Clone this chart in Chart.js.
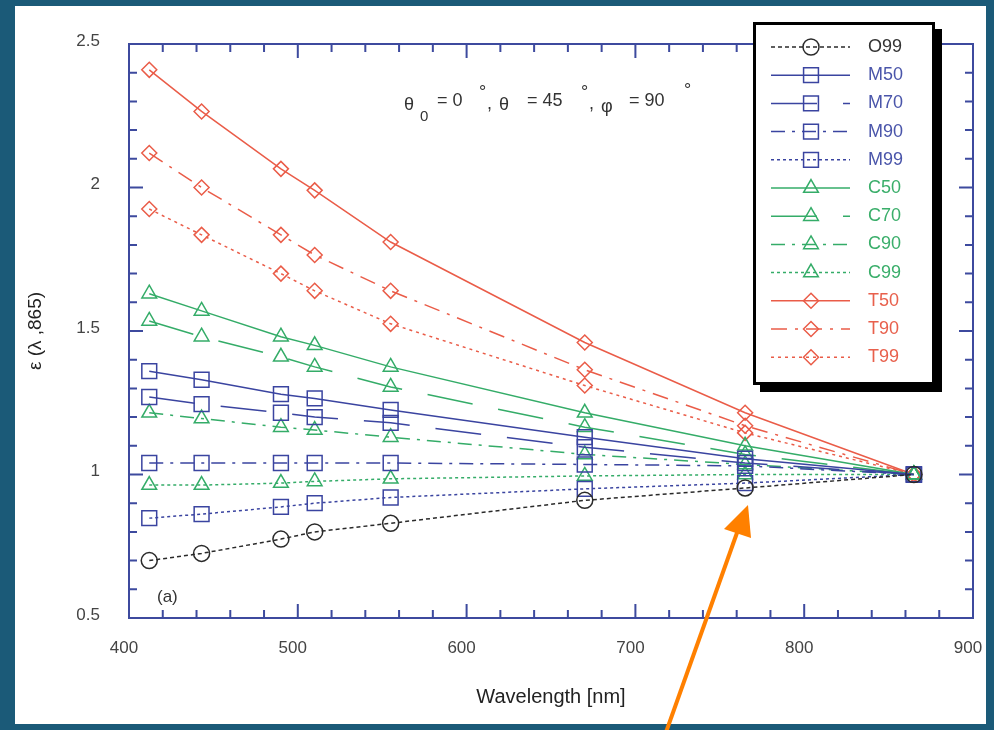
<!DOCTYPE html>
<html>
<head>
<meta charset="utf-8">
<script src="https://cdn.jsdelivr.net/npm/chart.js@4"></script>
<style>
  html, body { margin: 0; padding: 0; background: #1b5a78; }
  canvas { display: block; }
</style>
</head>
<body>
<canvas id="chart" width="994" height="730"></canvas>
<script>
// wavelengths (nm) and epsilon(lambda, 865) for each model
const wavelengths = [412, 443, 490, 510, 555, 670, 765, 865];

const O99 = [0.70, 0.725, 0.775, 0.80, 0.83, 0.91, 0.953, 1.0];
const M50 = [1.36, 1.33, 1.28, 1.265, 1.225, 1.13, 1.055, 1.0];
const M70 = [1.27, 1.245, 1.215, 1.20, 1.18, 1.095, 1.04, 1.0];
const M90 = [1.04, 1.04, 1.04, 1.04, 1.04, 1.035, 1.03, 1.0];
const M99 = [0.848, 0.862, 0.887, 0.90, 0.92, 0.95, 0.97, 1.0];
const C50 = [1.63, 1.57, 1.48, 1.45, 1.375, 1.215, 1.10, 1.0];
const C70 = [1.535, 1.48, 1.41, 1.375, 1.305, 1.165, 1.07, 1.0];
const C90 = [1.215, 1.195, 1.165, 1.155, 1.13, 1.07, 1.035, 1.0];
const C99 = [0.963, 0.963, 0.97, 0.976, 0.985, 0.995, 1.0, 1.0];
const T50 = [2.41, 2.265, 2.065, 1.99, 1.81, 1.46, 1.215, 1.0];
const T90 = [2.12, 2.0, 1.835, 1.765, 1.64, 1.365, 1.17, 1.0];
const T99 = [1.925, 1.835, 1.70, 1.64, 1.525, 1.31, 1.145, 1.0];

const yTicks = [0.5, 1, 1.5, 2, 2.5];
const xTicks = [400, 500, 600, 700, 800, 900];

const BLACK = '#2a2a2a', BLUE = '#3a44a0', GREEN = '#34ac68', RED = '#ea5c48';
const FRAME = '#3d4a9e';
const FONT = '"Liberation Sans", Arial, sans-serif';

const DOT = [3, 3], DASHDOT = [14, 7, 3, 7], LONG = [46, 26];

function series(label, values, color, textColor, dash, style, radius) {
  return {
    label,
    data: values.map((v, i) => ({x: wavelengths[i], y: v})),
    borderColor: color,
    borderWidth: 1.5,
    borderDash: dash,
    pointStyle: style,
    pointRadius: radius,
    pointBorderColor: color,
    pointBorderWidth: 1.5,
    pointBackgroundColor: 'rgba(0,0,0,0)',
    textColor,
    tension: 0,
    fill: false
  };
}

const datasets = [
  series('O99', O99, BLACK, '#333', [4, 3], 'circle', 8),
  series('M50', M50, BLUE, '#4a55aa', [], 'rect', 10.5),
  series('M70', M70, BLUE, '#4a55aa', LONG, 'rect', 10.5),
  series('M90', M90, BLUE, '#4a55aa', DASHDOT, 'rect', 10.5),
  series('M99', M99, BLUE, '#4a55aa', DOT, 'rect', 10.5),
  series('C50', C50, GREEN, '#3aae6a', [], 'triangle', 8.5),
  series('C70', C70, GREEN, '#3aae6a', LONG, 'triangle', 8.5),
  series('C90', C90, GREEN, '#3aae6a', DASHDOT, 'triangle', 8.5),
  series('C99', C99, GREEN, '#3aae6a', DOT, 'triangle', 8.5),
  series('T50', T50, RED, '#e8604c', [], 'rectRot', 7.5),
  series('T90', T90, RED, '#e8604c', [16, 8, 3, 8], 'rectRot', 7.5),
  series('T99', T99, RED, '#e8604c', [3, 4], 'rectRot', 7.5)
];

function marker(ctx, style, x, y, r) {
  ctx.beginPath();
  if (style === 'circle') {
    ctx.arc(x, y, r, 0, Math.PI * 2);
  } else if (style === 'rect') {
    const s = r * Math.SQRT1_2;
    ctx.rect(x - s, y - s, 2 * s, 2 * s);
  } else if (style === 'triangle') {
    ctx.moveTo(x, y - r);
    ctx.lineTo(x + 0.866 * r, y + 0.5 * r);
    ctx.lineTo(x - 0.866 * r, y + 0.5 * r);
    ctx.closePath();
  } else {
    ctx.moveTo(x, y - r);
    ctx.lineTo(x + r, y);
    ctx.lineTo(x, y + r);
    ctx.lineTo(x - r, y);
    ctx.closePath();
  }
  ctx.stroke();
}

const background = {
  id: 'background',
  beforeDraw(chart) {
    const ctx = chart.ctx;
    ctx.save();
    ctx.fillStyle = '#1b5a78';
    ctx.fillRect(0, 0, chart.width, chart.height);
    ctx.fillStyle = '#fff';
    ctx.fillRect(15, 6, 971, 718);
    ctx.restore();
  }
};

// frame with inward ticks on all four sides
const frame = {
  id: 'frame',
  afterDraw(chart) {
    const {ctx, chartArea: a, scales: {x, y}} = chart;
    ctx.save();
    ctx.strokeStyle = FRAME;
    ctx.lineWidth = 2;
    ctx.strokeRect(a.left, a.top, a.right - a.left, a.bottom - a.top);
    ctx.beginPath();
    for (let v = 400; v <= 900; v += 20) {
      const px = x.getPixelForValue(v);
      const len = v % 100 === 0 ? 14 : 8;
      ctx.moveTo(px, a.bottom); ctx.lineTo(px, a.bottom - len);
      ctx.moveTo(px, a.top); ctx.lineTo(px, a.top + len);
    }
    for (let i = 5; i <= 25; i++) {
      const py = y.getPixelForValue(i / 10);
      const len = i % 5 === 0 ? 14 : 8;
      ctx.moveTo(a.left, py); ctx.lineTo(a.left + len, py);
      ctx.moveTo(a.right, py); ctx.lineTo(a.right - len, py);
    }
    ctx.stroke();
    ctx.restore();
  }
};

const legendBox = {
  id: 'legendBox',
  afterDraw(chart) {
    const ctx = chart.ctx;
    ctx.save();
    ctx.fillStyle = '#000';
    ctx.fillRect(760, 29, 182, 363);
    ctx.fillStyle = '#fff';
    ctx.fillRect(753, 22, 182, 363);
    ctx.lineWidth = 3;
    ctx.strokeStyle = '#000';
    ctx.strokeRect(754.5, 23.5, 179, 360);
    chart.data.datasets.forEach((ds, i) => {
      const yy = 47 + i * 28.2;
      ctx.strokeStyle = ds.borderColor;
      ctx.lineWidth = ds.borderWidth;
      ctx.setLineDash(ds.borderDash);
      ctx.beginPath();
      ctx.moveTo(771, yy);
      ctx.lineTo(850, yy);
      ctx.stroke();
      ctx.setLineDash([]);
      marker(ctx, ds.pointStyle, 811, yy, ds.pointRadius);
      ctx.fillStyle = ds.textColor;
      ctx.font = '18px ' + FONT;
      ctx.textBaseline = 'middle';
      ctx.fillText(ds.label, 868, yy);
    });
    ctx.restore();
  }
};

const notes = {
  id: 'notes',
  afterDraw(chart) {
    const ctx = chart.ctx;
    ctx.save();
    ctx.fillStyle = '#333';
    ctx.textBaseline = 'middle';
    const big = '18px ' + FONT, small = '15px ' + FONT;
    const parts = [
      ['θ', 404, 105, big], ['0', 420, 117, small], ['= 0', 437, 101, big],
      ['°', 479, 93, big], [',', 487, 104, big],
      ['θ', 499, 105, big], ['= 45', 527, 101, big],
      ['°', 581, 93, big], [',', 589, 104, big],
      ['φ', 601, 107, big], ['= 90', 629, 101, big], ['°', 684, 91, big]
    ];
    parts.forEach(([t, px, py, f]) => { ctx.font = f; ctx.fillText(t, px, py); });
    ctx.font = '17px ' + FONT;
    ctx.fillText('(a)', 157, 597);

    // orange arrow
    ctx.strokeStyle = '#ff8000';
    ctx.fillStyle = '#ff8000';
    ctx.lineWidth = 4;
    ctx.beginPath();
    ctx.moveTo(665, 735);
    ctx.lineTo(738, 530);
    ctx.stroke();
    ctx.beginPath();
    ctx.moveTo(748, 505);
    ctx.lineTo(724, 529);
    ctx.lineTo(751, 538);
    ctx.closePath();
    ctx.fill();
    ctx.restore();
  }
};

new Chart(document.getElementById('chart'), {
  type: 'line',
  data: {datasets},
  plugins: [background, frame, legendBox, notes],
  options: {
    responsive: false,
    animation: false,
    devicePixelRatio: 1,
    events: [],
    layout: {padding: {left: 0, top: 44, right: 21, bottom: 0}},
    plugins: {legend: {display: false}, tooltip: {enabled: false}},
    scales: {
      x: {
        type: 'linear',
        min: 400, max: 900,
        afterBuildTicks: s => { s.ticks = xTicks.map(v => ({value: v})); },
        afterFit: s => { s.height = 112; s.paddingLeft = 0; s.paddingRight = 0; },
        grid: {display: false, drawTicks: false},
        border: {display: false},
        ticks: {
          padding: 20, labelOffset: -5, color: '#444', maxRotation: 0,
          font: {family: FONT, size: 17},
          callback: v => String(v)
        },
        title: {
          display: true, text: 'Wavelength [nm]', color: '#222',
          font: {family: FONT, size: 20}, padding: {top: 0, bottom: 21}
        }
      },
      y: {
        type: 'linear',
        min: 0.5, max: 2.5,
        afterBuildTicks: s => { s.ticks = yTicks.map(v => ({value: v})); },
        afterFit: s => { s.width = 129; s.paddingTop = 0; s.paddingBottom = 0; },
        grid: {display: false, drawTicks: false},
        border: {display: false},
        ticks: {
          padding: 29, labelOffset: -3, color: '#444',
          font: {family: FONT, size: 17},
          callback: v => String(v)
        },
        title: {
          display: true, text: 'ε (λ ,865)', color: '#222',
          font: {family: FONT, size: 19}, padding: {top: 24, bottom: 0}
        }
      }
    }
  }
});
</script>
</body>
</html>
